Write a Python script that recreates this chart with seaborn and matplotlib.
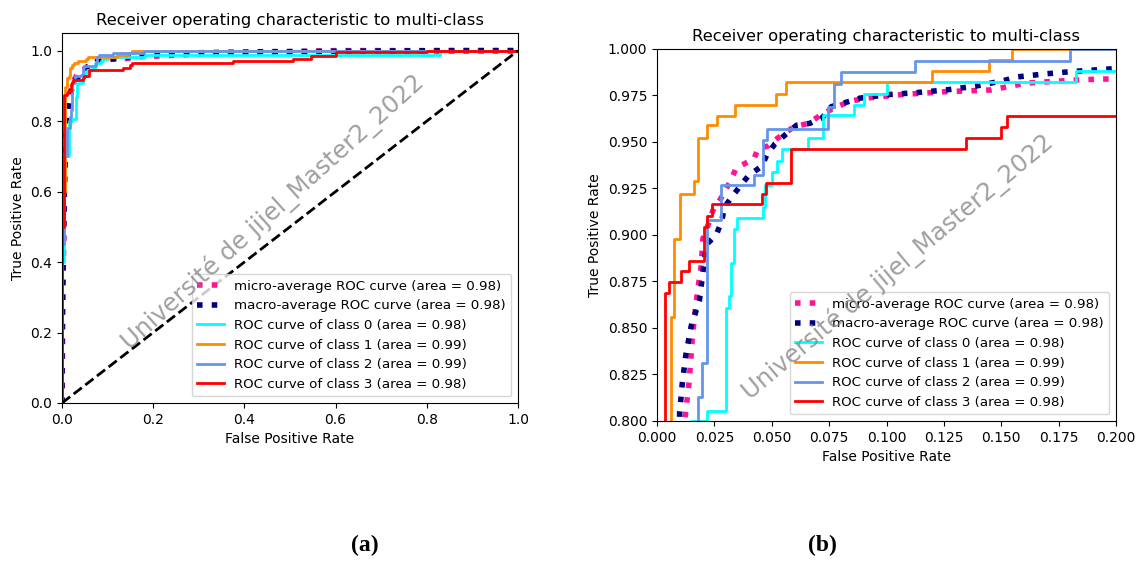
import numpy as np
import matplotlib
matplotlib.use("Agg")
import matplotlib.pyplot as plt
import seaborn as sns

# ROC corner points (fpr, tpr)
micro_fpr = [0.0, 0.002, 0.005, 0.008, 0.0125, 0.014, 0.0153, 0.0164, 0.0177, 0.0193, 0.020, 0.0216,
             0.0243, 0.028, 0.0324, 0.0345, 0.0423, 0.0439, 0.0486, 0.0525, 0.0595, 0.0658, 0.072,
             0.0783, 0.0846, 0.091, 0.1065, 0.125, 0.1457, 0.161, 0.185, 0.20, 0.30, 0.45, 0.60, 1.0]
micro_tpr = [0.0, 0.30, 0.60, 0.75, 0.805, 0.821, 0.843, 0.857, 0.870, 0.884, 0.898, 0.903,
             0.913, 0.920, 0.930, 0.936, 0.941, 0.946, 0.948, 0.952, 0.958, 0.960, 0.965,
             0.969, 0.972, 0.9736, 0.9755, 0.977, 0.978, 0.9817, 0.9835, 0.984, 0.990, 0.995, 1.0, 1.0]

macro_fpr = [0.0, 0.0, 0.003, 0.006, 0.0099, 0.011, 0.0125, 0.0149, 0.0185, 0.020, 0.0216, 0.0258,
             0.0282, 0.0294, 0.0329, 0.0399, 0.0457, 0.0478, 0.0514, 0.056, 0.0608, 0.0665, 0.072,
             0.076, 0.0885, 0.101, 0.1135, 0.126, 0.1386, 0.151, 0.157, 0.169, 0.182, 0.20, 0.30,
             0.45, 0.85, 1.0]
macro_tpr = [0.0, 0.20, 0.45, 0.65, 0.805, 0.820, 0.835, 0.851, 0.865, 0.880, 0.895, 0.900,
             0.9075, 0.915, 0.921, 0.932, 0.937, 0.943, 0.949, 0.954, 0.959, 0.960, 0.963,
             0.969, 0.9736, 0.9755, 0.9766, 0.978, 0.980, 0.983, 0.985, 0.9866, 0.988, 0.9895, 0.994,
             0.997, 1.0, 1.0]

fpr_0 = [0, 0, 0.005, 0.005, 0.015, 0.015, 0.022, 0.022, 0.030, 0.030, 0.0313, 0.0313, 0.0324, 0.0324,
         0.0335, 0.0335, 0.035, 0.035, 0.046, 0.046, 0.047, 0.047, 0.050, 0.050, 0.0525, 0.0525,
         0.0545, 0.0545, 0.066, 0.066, 0.0725, 0.0725, 0.086, 0.086, 0.090, 0.090, 0.100, 0.100,
         0.1825, 0.1825, 0.83, 0.83, 1.0]
tpr_0 = [0, 0.40, 0.40, 0.70, 0.70, 0.80, 0.80, 0.8055, 0.8055, 0.861, 0.861, 0.867, 0.867, 0.885,
         0.885, 0.903, 0.903, 0.909, 0.909, 0.915, 0.915, 0.927, 0.927, 0.934, 0.934, 0.940,
         0.940, 0.946, 0.946, 0.952, 0.952, 0.9645, 0.9645, 0.970, 0.970, 0.976, 0.976, 0.982,
         0.982, 0.988, 0.988, 1.0, 1.0]

fpr_1 = [0, 0, 0.006, 0.006, 0.0075, 0.0075, 0.0102, 0.0102, 0.016, 0.016, 0.0177, 0.0177, 0.0216,
         0.0216, 0.026, 0.026, 0.034, 0.034, 0.052, 0.052, 0.056, 0.056, 0.120, 0.120, 0.1445,
         0.1445, 0.1545, 0.1545, 1.0]
tpr_1 = [0, 0.60, 0.60, 0.856, 0.856, 0.898, 0.898, 0.922, 0.922, 0.929, 0.929, 0.952, 0.952,
         0.959, 0.959, 0.964, 0.964, 0.970, 0.970, 0.976, 0.976, 0.982, 0.982, 0.988, 0.988,
         0.994, 0.994, 1.0, 1.0]

fpr_2 = [0, 0, 0.005, 0.005, 0.012, 0.012, 0.0177, 0.0177, 0.0196, 0.0196, 0.0220, 0.0220, 0.0280,
         0.0280, 0.0424, 0.0424, 0.0463, 0.0463, 0.048, 0.048, 0.0744, 0.0744, 0.0772, 0.0772,
         0.0802, 0.0802, 0.1124, 0.1124, 0.180, 0.180, 1.0]
tpr_2 = [0, 0.45, 0.45, 0.70, 0.70, 0.78, 0.78, 0.813, 0.813, 0.831, 0.831, 0.908, 0.908, 0.927,
         0.927, 0.932, 0.932, 0.951, 0.951, 0.957, 0.957, 0.969, 0.969, 0.981, 0.981, 0.9875,
         0.9875, 0.9935, 0.9935, 1.0, 1.0]

fpr_3 = [0, 0, 0.0036, 0.0036, 0.0052, 0.0052, 0.0105, 0.0105, 0.0139, 0.0139, 0.0204, 0.0204,
         0.0219, 0.0219, 0.024, 0.024, 0.0457, 0.0457, 0.0475, 0.0475, 0.0584, 0.0584, 0.1347,
         0.1347, 0.150, 0.150, 0.1527, 0.1527, 0.376, 0.376, 0.507, 0.507, 0.545,
         0.545, 0.60, 0.60, 0.80, 0.80, 1.0]
tpr_3 = [0, 0.50, 0.50, 0.8686, 0.8686, 0.8745, 0.8745, 0.8806, 0.8806, 0.886, 0.886, 0.9045,
         0.9045, 0.9104, 0.9104, 0.9164, 0.9164, 0.922, 0.922, 0.928, 0.928, 0.946, 0.946,
         0.952, 0.952, 0.958, 0.958, 0.964, 0.964, 0.970, 0.970, 0.976, 0.976,
         0.985, 0.985, 0.995, 0.995, 1.0, 1.0]

class_curves = [(fpr_0, tpr_0), (fpr_1, tpr_1), (fpr_2, tpr_2), (fpr_3, tpr_3)]
class_colors = ["aqua", "darkorange", "cornflowerblue", "red"]
class_auc = [0.98, 0.99, 0.99, 0.98]
micro_auc = 0.98
macro_auc = 0.98

title = "Receiver operating characteristic to multi-class"
watermark = "Université de jijel_Master2_2022"

W, H = 1141, 563
fig = plt.figure(figsize=(W / 100, H / 100), dpi=100)

# axes boxes in pixels: left, top, right, bottom
boxes = [(62, 33, 518, 403), (657, 49, 1116, 421)]
axes = []
for l, t, r, b in boxes:
    axes.append(fig.add_axes([l / W, 1 - b / H, (r - l) / W, (b - t) / H]))


def draw(ax):
    sns.lineplot(x=micro_fpr, y=micro_tpr, sort=False, estimator=None, ax=ax,
                 color="deeppink", linestyle=":", linewidth=4,
                 label="micro-average ROC curve (area = {0:0.2f})".format(micro_auc))
    sns.lineplot(x=macro_fpr, y=macro_tpr, sort=False, estimator=None, ax=ax,
                 color="navy", linestyle=":", linewidth=4,
                 label="macro-average ROC curve (area = {0:0.2f})".format(macro_auc))
    for i, ((fx, ty), c) in enumerate(zip(class_curves, class_colors)):
        sns.lineplot(x=fx, y=ty, sort=False, estimator=None, ax=ax, color=c, linewidth=2,
                     label="ROC curve of class {0} (area = {1:0.2f})".format(i, class_auc[i]))
    sns.lineplot(x=[0, 1], y=[0, 1], sort=False, estimator=None, ax=ax,
                 color="k", linestyle="--", linewidth=2)
    ax.set_xlabel("False Positive Rate", fontsize=10)
    ax.set_ylabel("True Positive Rate", fontsize=10)
    ax.set_title(title, fontsize=11.8)
    ax.tick_params(labelsize=10)
    ax.legend(loc="lower right", fontsize=9.6)


ax1, ax2 = axes
draw(ax1)
ax1.set_xlim(0.0, 1.0)
ax1.set_ylim(0.0, 1.05)

draw(ax2)
ax2.set_xlim(0.0, 0.2)
ax2.set_ylim(0.8, 1.0)
ax2.set_xticks(np.arange(0, 0.2001, 0.025))
ax2.set_yticks(np.arange(0.8, 1.0001, 0.025))
ax2.xaxis.set_major_formatter(matplotlib.ticker.FormatStrFormatter("%.3f"))
ax2.yaxis.set_major_formatter(matplotlib.ticker.FormatStrFormatter("%.3f"))

# watermarks
for cx, cy, rot in [(273, 212, 42), (898, 267, 40)]:
    fig.text(cx / W, 1 - cy / H, watermark, rotation=rot, rotation_mode="anchor",
             ha="center", va="center", fontsize=17.6, color="gray", alpha=0.75)

# panel labels
for cx, lab in [(365, "(a)"), (822, "(b)")]:
    fig.text(cx / W, 1 - 545 / H, lab, ha="center", va="center", fontsize=17,
             fontweight="bold", family="Liberation Serif")

fig.savefig("out.png", dpi=100)
